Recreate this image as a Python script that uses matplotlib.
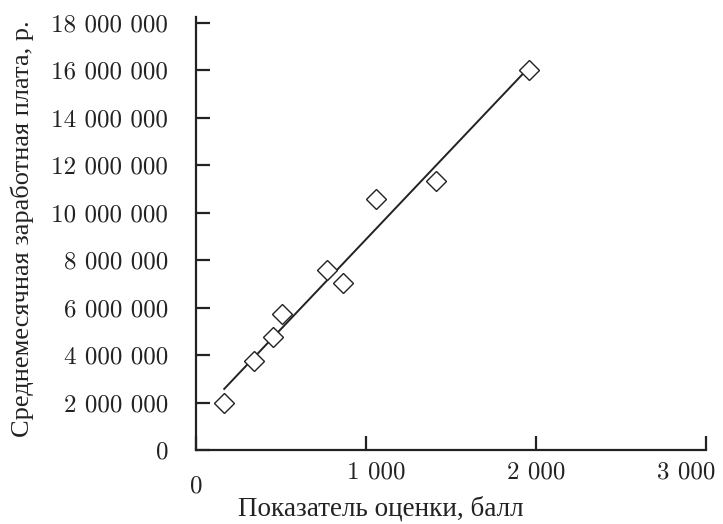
import numpy as np
import matplotlib
matplotlib.use("Agg")
import matplotlib.pyplot as plt
from matplotlib.transforms import ScaledTranslation

# =========================
# 1. Dados
# =========================

pontos = [166, 341, 451, 506, 769, 867, 1059, 1412, 1959]
salario = [1970000, 3760000, 4760000, 5720000, 7590000, 7050000,
           10590000, 11340000, 16020000]

x_ticks = [0, 1000, 2000, 3000]
x_labels = ["0", "1 000", "2 000", "3 000"]
y_ticks = list(range(0, 18000001, 2000000))
y_labels = ["0"] + [f"{v:,}".replace(",", " ") for v in y_ticks[1:]]

x_title = "Показатель оценки, балл"
y_title = "Среднемесячная заработная плата, р."

# linha de tendencia (minimos quadrados)
coef = np.polyfit(pontos, salario, 1)
x_fit = np.array([min(pontos), max(pontos)])
y_fit = np.polyval(coef, x_fit)

# =========================
# 2. Grafico
# =========================

num_font = ["cmr10", "DejaVu Serif"]
txt_font = ["Liberation Serif", "DejaVu Serif"]

fig = plt.figure(figsize=(7.23, 5.24), dpi=100)
ax = fig.add_axes([196 / 723, 1 - 450 / 524, 510 / 723, 433 / 524])

ax.plot(x_fit, y_fit, color="#222222", linewidth=1.4, zorder=2)
ax.plot(pontos, salario, linestyle="none", marker="D", markersize=10.5,
        markerfacecolor="white", markeredgecolor="#222222",
        markeredgewidth=1.0, zorder=3, clip_on=False)

ax.set_xlim(0, 3000)
ax.set_ylim(0, 18250000)

ax.spines["top"].set_visible(False)
ax.spines["right"].set_visible(False)
for s in ["left", "bottom"]:
    ax.spines[s].set_linewidth(1.6)
    ax.spines[s].set_color("#222222")

ax.set_xticks(x_ticks)
ax.set_xticklabels(x_labels, fontfamily=num_font, fontsize=18, color="#222222")
ax.set_yticks(y_ticks)
ax.set_yticklabels(y_labels, fontfamily=num_font, fontsize=18, color="#222222")
ax.tick_params(axis="both", direction="in", length=10, width=1.6, color="#222222")
ax.tick_params(axis="y", pad=20)
ax.tick_params(axis="x", pad=8)

# ajuste manual de alguns rotulos do eixo x
xl = ax.get_xticklabels()
xl[0].set_transform(xl[0].get_transform() + ScaledTranslation(0, -14 / 100, fig.dpi_scale_trans))
xl[1].set_transform(xl[1].get_transform() + ScaledTranslation(10 / 100, 0, fig.dpi_scale_trans))
xl[3].set_transform(xl[3].get_transform() + ScaledTranslation(-20 / 100, 0, fig.dpi_scale_trans))

ax.set_xlabel(x_title, fontfamily=txt_font, fontsize=19.5, color="#222222")
ax.xaxis.set_label_coords(0.363, -0.106)
ax.set_ylabel(y_title, fontfamily=txt_font, fontsize=19, color="#222222")
ax.yaxis.set_label_coords(-0.318, 0.51)

plt.savefig("out.png", dpi=100)
plt.close()
